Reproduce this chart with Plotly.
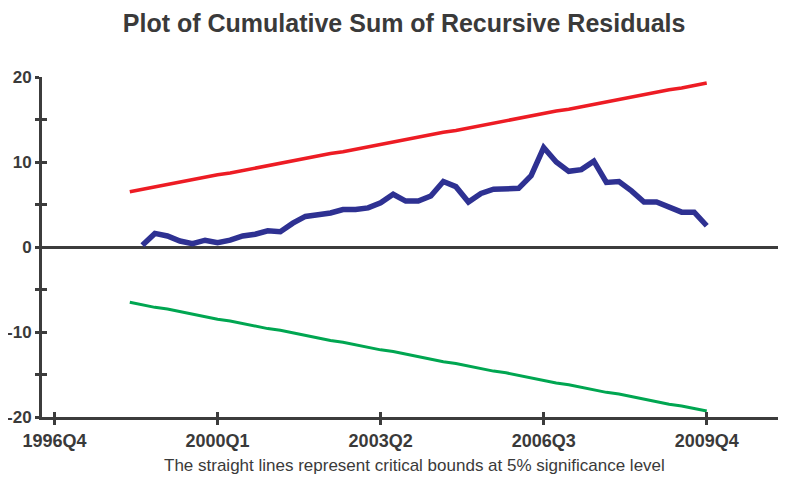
import plotly.graph_objects as go

# quarters covered by the CUSUM and its 5% bounds
bound_quarters = ["1998Q2", "1998Q3", "1998Q4", "1999Q1", "1999Q2", "1999Q3", "1999Q4",
                  "2000Q1", "2000Q2", "2000Q3", "2000Q4", "2001Q1", "2001Q2", "2001Q3",
                  "2001Q4", "2002Q1", "2002Q2", "2002Q3", "2002Q4", "2003Q1", "2003Q2",
                  "2003Q3", "2003Q4", "2004Q1", "2004Q2", "2004Q3", "2004Q4", "2005Q1",
                  "2005Q2", "2005Q3", "2005Q4", "2006Q1", "2006Q2", "2006Q3", "2006Q4",
                  "2007Q1", "2007Q2", "2007Q3", "2007Q4", "2008Q1", "2008Q2", "2008Q3",
                  "2008Q4", "2009Q1", "2009Q2", "2009Q3", "2009Q4"]
cusum_quarters = bound_quarters[1:]

upper_bound = [6.5, 6.8, 7.1, 7.3, 7.6, 7.9, 8.2, 8.5, 8.7, 9.0, 9.3, 9.6, 9.8, 10.1,
               10.4, 10.7, 11.0, 11.2, 11.5, 11.8, 12.1, 12.3, 12.6, 12.9, 13.2, 13.5,
               13.7, 14.0, 14.3, 14.6, 14.8, 15.1, 15.4, 15.7, 16.0, 16.2, 16.5, 16.8,
               17.1, 17.3, 17.6, 17.9, 18.2, 18.5, 18.7, 19.0, 19.3]
lower_bound = [-6.5, -6.8, -7.1, -7.3, -7.6, -7.9, -8.2, -8.5, -8.7, -9.0, -9.3, -9.6,
               -9.8, -10.1, -10.4, -10.7, -11.0, -11.2, -11.5, -11.8, -12.1, -12.3,
               -12.6, -12.9, -13.2, -13.5, -13.7, -14.0, -14.3, -14.6, -14.8, -15.1,
               -15.4, -15.7, -16.0, -16.2, -16.5, -16.8, -17.1, -17.3, -17.6, -17.9,
               -18.2, -18.5, -18.7, -19.0, -19.3]
cusum = [0.2, 1.6, 1.3, 0.7, 0.4, 0.8, 0.5, 0.8, 1.3, 1.5, 1.9, 1.8, 2.8, 3.6, 3.8,
         4.0, 4.4, 4.4, 4.6, 5.2, 6.2, 5.4, 5.4, 6.0, 7.7, 7.1, 5.3, 6.3, 6.8, 6.8,
         6.9, 8.4, 11.7, 10.0, 8.9, 9.1, 10.1, 7.6, 7.7, 6.6, 5.3, 5.3, 4.7, 4.1,
         4.1, 2.5]

tick_labels = ["1996Q4", "2000Q1", "2003Q2", "2006Q3", "2009Q4"]
y_ticks = [-20, -15, -10, -5, 0, 5, 10, 15, 20]
y_tick_text = ["-20", "", "-10", "", "0", "", "10", "", "20"]


def qpos(q):
    # "1998Q3" -> 1998.5
    return int(q[:4]) + (int(q[-1]) - 1) / 4


TXT = "#3a3a3a"
AX = "#3c3c3c"
FONT = "Liberation Sans, Arial, sans-serif"

bx = [qpos(q) for q in bound_quarters]
cx = [qpos(q) for q in cusum_quarters]
tx = [qpos(q) for q in tick_labels]
xr = [qpos("1996Q3"), qpos("2011Q2") + 0.08]

fig = go.Figure()
fig.add_trace(go.Scatter(x=bx, y=upper_bound, mode="lines",
                         line=dict(color="#ED1C24", width=3.5), showlegend=False))
fig.add_trace(go.Scatter(x=bx, y=lower_bound, mode="lines",
                         line=dict(color="#00A651", width=3), showlegend=False))
fig.add_trace(go.Scatter(x=cx, y=cusum, mode="lines",
                         line=dict(color="#2E3192", width=5.5), showlegend=False))
# dummy trace so the overlay axes (inner half of the crossing ticks) get drawn
fig.add_trace(go.Scatter(x=[None], y=[None], xaxis="x2", yaxis="y2",
                         showlegend=False, hoverinfo="skip"))

# page body adds an 8px offset, margins below are compensated for it
fig.update_layout(
    width=786, height=480,
    margin=dict(l=34, r=8, t=69, b=71, autoexpand=False),
    plot_bgcolor="white", paper_bgcolor="white",
    font=dict(family=FONT, color=TXT),
    title=dict(text="<b>Plot of Cumulative Sum of Recursive Residuals</b>",
               x=0.504, xanchor="center", y=0.968, yanchor="middle",
               font=dict(size=25, color=TXT), automargin=False),
    xaxis=dict(range=xr, tickvals=tx, ticktext=["<b>%s</b>" % t for t in tick_labels],
               ticks="outside", ticklen=5, tickwidth=2.5, tickcolor=AX,
               showline=True, linecolor=AX, linewidth=3, showgrid=False,
               zeroline=False, automargin=False, tickfont=dict(size=18, color=TXT)),
    yaxis=dict(range=[-20, 20], tickvals=y_ticks,
               ticktext=["<b>%s</b>" % t if t else "" for t in y_tick_text],
               ticks="outside", ticklen=4, tickwidth=2.5, tickcolor=AX,
               showline=True, linecolor=AX, linewidth=3, showgrid=False,
               zeroline=True, zerolinecolor=AX, zerolinewidth=3, automargin=False,
               tickfont=dict(size=17, color=TXT)),
    xaxis2=dict(range=xr, overlaying="x", tickvals=tx, ticks="inside", ticklen=5,
                tickwidth=2.5, tickcolor=AX, showticklabels=False, showgrid=False,
                zeroline=False, showline=False, automargin=False),
    yaxis2=dict(range=[-20, 20], overlaying="y", tickvals=y_ticks, ticks="inside",
                ticklen=5, tickwidth=2.5, tickcolor=AX, showticklabels=False,
                showgrid=False, zeroline=False, showline=False, automargin=False),
    annotations=[dict(text="The straight lines represent critical bounds at 5% significance level",
                      xref="paper", yref="paper", x=0.5, y=-0.144,
                      xanchor="center", yanchor="middle", showarrow=False,
                      font=dict(size=17, color=TXT))],
)

fig.write_html("out.html")
